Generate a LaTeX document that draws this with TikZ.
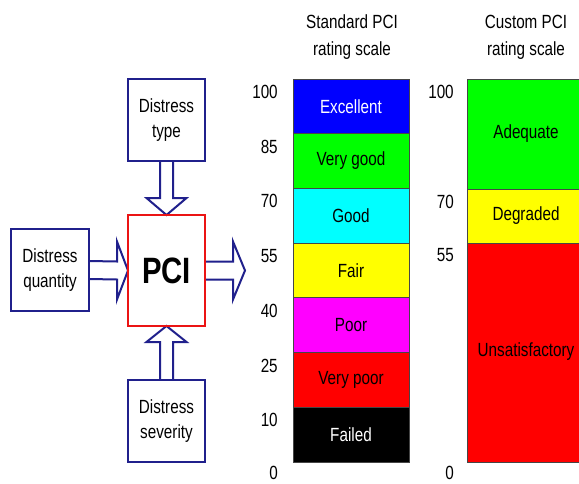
\documentclass[tikz,border=0pt]{standalone}
\usepackage{fontspec}
\setmainfont{Liberation Sans}[FakeStretch=0.8]
\usetikzlibrary{calc}
\definecolor{navy}{RGB}{32,32,140}
\definecolor{barline}{RGB}{70,70,70}
\definecolor{pcired}{RGB}{235,20,20}
\definecolor{bBlue}{RGB}{0,0,255}
\definecolor{bGreen}{RGB}{0,255,0}
\definecolor{bCyan}{RGB}{0,255,255}
\definecolor{bYellow}{RGB}{255,255,0}
\definecolor{bMagenta}{RGB}{255,0,255}
\definecolor{bRed}{RGB}{255,0,0}
\definecolor{bBlack}{RGB}{0,0,0}

\begin{document}
\begin{tikzpicture}[x=0.75pt,y=-0.75pt,
  txt/.style={font=\fontsize{14.3}{18.75}\selectfont},
  inbox/.style={txt, draw=navy, line width=1.5pt, fill=white, align=center,
    inner sep=0pt, outer sep=0pt, minimum width=77*0.75pt, minimum height=82*0.75pt},
  pcibox/.style={draw=pcired, line width=1.6pt, fill=white, inner sep=0pt, outer sep=0pt,
    minimum width=77*0.75pt, minimum height=111*0.75pt,
    font=\fontsize{27.5}{30}\selectfont\bfseries},
  blockarrow/.style={draw=navy, line width=1.5pt, fill=white, line join=miter},
  band/.style={txt, draw=barline, line width=0.6pt, inner sep=0pt, outer sep=0pt,
    minimum width=116*0.75pt, minimum height=54.7*0.75pt},
  num/.style={txt, inner sep=0pt, anchor=east},
  title/.style={txt, align=center, font=\fontsize{14.3}{20}\selectfont}]

\useasboundingbox (0,0) rectangle (579,483);
\clip (0,0) rectangle (579,483);
\fill[white] (0,0) rectangle (579,483);

% --- PCI inputs and output ---
\node[pcibox] (pci) at (166.5,270.5) {PCI};
\node[inbox] (type) at (166.5,120) {Distress\\type};
\node[inbox, minimum width=78*0.75pt] (qty) at (50,270) {Distress\\quantity};
\node[inbox] (sev) at (166.5,421) {Distress\\severity};
\coordinate (out) at (245,270.5);

% hollow block arrows
\draw[blockarrow] ($(type.south)+(-6.5,0)$) -- ($(pci.north)+(-6.5,-17)$)
  -- ($(pci.north)+(-20,-17)$) -- (pci.north) -- ($(pci.north)+(20,-17)$)
  -- ($(pci.north)+(6.5,-17)$) -- ($(type.south)+(6.5,0)$);
\draw[blockarrow] ($(sev.north)+(-6.5,0)$) -- ($(pci.south)+(-6.5,16)$)
  -- ($(pci.south)+(-20,16)$) -- (pci.south) -- ($(pci.south)+(20,16)$)
  -- ($(pci.south)+(6.5,16)$) -- ($(sev.north)+(6.5,0)$);
\draw[blockarrow] ($(qty.east)+(0,-9)$) -- ($(pci.west)+(-11,-9)$)
  -- ($(pci.west)+(-11,-29)$) -- (pci.west) -- ($(pci.west)+(-11,29)$)
  -- ($(pci.west)+(-11,9)$) -- ($(qty.east)+(0,9)$);
\draw[blockarrow] ($(pci.east)+(0,-9)$) -- ($(out)+(-12,-9)$)
  -- ($(out)+(-12,-29)$) -- (out) -- ($(out)+(-12,29)$)
  -- ($(out)+(-12,9)$) -- ($(pci.east)+(0,9)$);

% redraw box outlines over the arrow ends
\node[pcibox, fill=none] (pcifront) at (pci) {};
\node[inbox, fill=none] (typefront) at (type) {};
\node[inbox, fill=none] (sevfront) at (sev) {};
\node[inbox, fill=none, minimum width=78*0.75pt] (qtyfront) at (qty) {};

% --- Standard PCI rating scale ---
\node[title] (stdtitle) at (352,37) {Standard PCI\\rating scale};
\foreach \i/\lab/\col/\tc in {1/Excellent/bBlue/white, 2/Very good/bGreen/black,
    3/Good/bCyan/black, 4/Fair/bYellow/black, 5/Poor/bMagenta/black,
    6/Very poor/bRed/black, 7/Failed/bBlack/white}
  \node[band, fill=\col, text=\tc] (s\i) at (351,{79+54.7*(\i-0.5)}) {\lab};
\foreach \v [count=\k from 0] in {100,85,70,55,40,25,10}
  \node[num] (sn\k) at (278,{79+54.7*\k+13}) {\v};
\node[num] (sn7) at (278,473) {0};

% --- Custom PCI rating scale ---
\node[title] (custitle) at (526,37) {Custom PCI\\rating scale};
\node[band, fill=bGreen, minimum width=133*0.75pt, minimum height=110*0.75pt]
  (c1) at (533.5,134) {};
\node[band, fill=bYellow, minimum width=133*0.75pt, minimum height=54*0.75pt]
  (c2) at (533.5,216) {};
\node[band, fill=bRed, minimum width=133*0.75pt, minimum height=219*0.75pt]
  (c3) at (533.5,352.5) {};
\node[txt] (c1t) at (526,134) {Adequate};
\node[txt] (c2t) at (526,216) {Degraded};
\node[txt] (c3t) at (526,352) {Unsatisfactory};
\node[num] (cn1) at (454,92) {100};
\node[num] (cn2) at (454,202) {70};
\node[num] (cn3) at (454,255) {55};
\node[num] (cn4) at (454,473) {0};
\end{tikzpicture}
\end{document}
